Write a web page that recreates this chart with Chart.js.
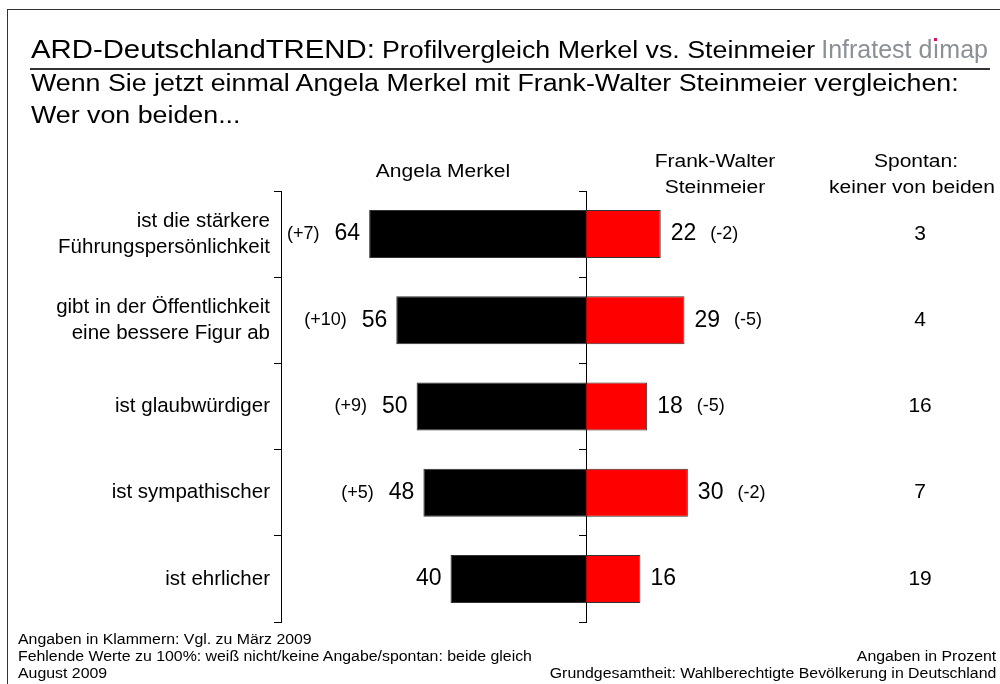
<!DOCTYPE html>
<html>
<head>
<meta charset="utf-8">
<script src="https://cdn.jsdelivr.net/npm/chart.js@4.4.1/dist/chart.umd.min.js"></script>
<style>
body { margin: 0; background: #fff; }
#page { position: relative; width: 1000px; height: 684px; overflow: hidden; font-family: "Liberation Sans", Arial, sans-serif; color: #000; }
#frame { position: absolute; left: 7px; top: 9px; width: 1000px; height: 700px; border-left: 1px solid #333; border-top: 1px solid #333; }
#rule { position: absolute; left: 30px; top: 68px; width: 960px; height: 2px; background: #333; }
#chart { position: absolute; left: 0; top: 0; }
/* the source text is a little wider than plain Arial */
.t { position: absolute; white-space: nowrap; line-height: 1; transform: scaleX(1.15); transform-origin: left top; }
.c { text-align: center; width: 240px; transform-origin: center top; }
.r { text-align: right; transform-origin: right top; }
.brand { color: #8a9096; transform: none; }
.idot { position: relative; }
.idot::after { content: ""; position: absolute; left: 50%; top: 3px; width: 3px; height: 3px; margin-left: -1.5px; background: #d8126a; }
</style>
</head>
<body>
<div id="page">
  <div id="frame"></div>
  <canvas id="chart" width="1000" height="684"></canvas>

  <div class="t" style="left:31px; top:36.7px; font-size:25.5px;">ARD-DeutschlandTREND:</div>
  <div class="t" style="left:382px; top:38.6px; font-size:23.3px;">Profilvergleich Merkel vs. Steinmeier</div>
  <div class="t r brand" style="right:12px; top:37px; font-size:25px;">Infratest d<span class="idot">ı</span>map</div>
  <div id="rule"></div>
  <div class="t" style="left:31px; top:72px; font-size:23.3px;">Wenn Sie jetzt einmal Angela Merkel mit Frank-Walter Steinmeier vergleichen:</div>
  <div class="t" style="left:31px; top:104.3px; font-size:23.3px;">Wer von beiden...</div>

  <div class="t c" style="left:323px; top:161.5px; font-size:18.3px;">Angela Merkel</div>
  <div class="t c" style="left:595px; top:151.5px; font-size:18.3px;">Frank-Walter</div>
  <div class="t c" style="left:595px; top:177.5px; font-size:18.3px;">Steinmeier</div>
  <div class="t c" style="left:796px; top:151.5px; font-size:18.3px;">Spontan:</div>
  <div class="t c" style="left:792px; top:177.5px; font-size:18.3px;">keiner von beiden</div>

  <div class="t" style="left:18px; top:633.3px; font-size:13.8px;">Angaben in Klammern: Vgl. zu März 2009</div>
  <div class="t" style="left:18px; top:650.3px; font-size:13.8px;">Fehlende Werte zu 100%: weiß nicht/keine Angabe/spontan: beide gleich</div>
  <div class="t" style="left:18px; top:667.3px; font-size:13.8px;">August 2009</div>
  <div class="t r" style="right:4px; top:650.3px; font-size:13.8px;">Angaben in Prozent</div>
  <div class="t r" style="right:4px; top:667.3px; font-size:13.8px;">Grundgesamtheit: Wahlberechtigte Bevölkerung in Deutschland</div>
</div>

<script>
var CATEGORIES = [
    ['ist die stärkere', 'Führungspersönlichkeit'],
    ['gibt in der Öffentlichkeit', 'eine bessere Figur ab'],
    'ist glaubwürdiger',
    'ist sympathischer',
    'ist ehrlicher'
];
var MERKEL = [64, 56, 50, 48, 40];
var MERKEL_CHANGE = ['(+7)', '(+10)', '(+9)', '(+5)', ''];
var STEINMEIER = [22, 29, 18, 30, 16];
var STEINMEIER_CHANGE = ['(-2)', '(-5)', '(-5)', '(-2)', ''];
var NEITHER = [3, 4, 16, 7, 19];

var FONT = '"Liberation Sans", Arial, sans-serif';
Chart.defaults.font.family = FONT;
Chart.defaults.color = '#000';

// numbers next to the bars and the "spontan" column
var valueLabels = {
    id: 'valueLabels',
    afterDatasetsDraw: function(chart) {
        var ctx = chart.ctx;
        var xs = chart.scales.x;
        var left = chart.getDatasetMeta(0).data;
        var right = chart.getDatasetMeta(1).data;
        ctx.save();
        ctx.fillStyle = '#000';
        ctx.textBaseline = 'middle';

        left.forEach(function(bar, i) {
            var x = bar.x - 9;
            ctx.font = '23px ' + FONT;
            ctx.textAlign = 'right';
            ctx.fillText(String(MERKEL[i]), x, bar.y);
            var w = ctx.measureText(String(MERKEL[i])).width;
            if (MERKEL_CHANGE[i]) {
                ctx.font = '18px ' + FONT;
                ctx.fillText(MERKEL_CHANGE[i], x - w - 15, bar.y);
            }
        });

        right.forEach(function(bar, i) {
            var x = bar.x + 10;
            ctx.font = '23px ' + FONT;
            ctx.textAlign = 'left';
            ctx.fillText(String(STEINMEIER[i]), x, bar.y);
            var w = ctx.measureText(String(STEINMEIER[i])).width;
            if (STEINMEIER_CHANGE[i]) {
                ctx.font = '18px ' + FONT;
                ctx.fillText(STEINMEIER_CHANGE[i], x + w + 14, bar.y);
            }
            ctx.font = '21px ' + FONT;
            ctx.textAlign = 'center';
            ctx.fillText(String(NEITHER[i]), xs.getPixelForValue(98.5), bar.y);
        });
        ctx.restore();
    }
};

var chart = new Chart(document.getElementById('chart').getContext('2d'), {
    type: 'bar',
    data: {
        labels: CATEGORIES,
        datasets: [
            {
                label: 'Angela Merkel',
                data: MERKEL.map(function(v) { return -v; }),
                backgroundColor: '#000000',
                borderColor: '#333333',
                borderWidth: 1,
                barPercentage: 0.557,
                categoryPercentage: 1
            },
            {
                label: 'Frank-Walter Steinmeier',
                data: STEINMEIER,
                backgroundColor: '#ff0000',
                borderColor: '#333333',
                borderWidth: 1,
                barPercentage: 0.557,
                categoryPercentage: 1
            }
        ]
    },
    options: {
        indexAxis: 'y',
        responsive: false,
        animation: false,
        layout: { padding: { left: 0, right: 7, top: 191, bottom: 62 } },
        plugins: { legend: { display: false }, tooltip: { enabled: false } },
        scales: {
            x: { display: false, stacked: true, min: -90, max: 120 },
            y: {
                stacked: true,
                offset: true,
                afterFit: function(scale) { scale.width = 281; },
                grid: { offset: true, drawOnChartArea: false, tickLength: 7, color: '#000' },
                border: { color: '#000', width: 1 },
                ticks: { color: '#000', padding: 4, font: { size: 20.5, lineHeight: 1.27 } }
            },
            mid: {
                type: 'category',
                axis: 'y',
                position: { x: 0 },
                offset: true,
                grid: { offset: true, drawOnChartArea: false, tickLength: 7, color: '#000' },
                border: { color: '#000', width: 1 },
                ticks: { display: false }
            }
        }
    },
    plugins: [valueLabels]
});
</script>
</body>
</html>
